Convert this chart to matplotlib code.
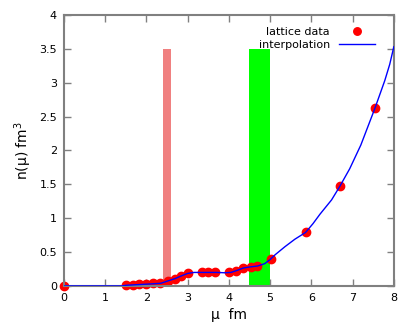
import matplotlib
matplotlib.use("Agg")
import matplotlib.pyplot as plt

# lattice data points
mu_data = [0.0, 1.50, 1.67, 1.83, 2.00, 2.16, 2.33, 2.52, 2.69, 2.85, 3.01,
           3.34, 3.49, 3.66, 4.01, 4.17, 4.35, 4.53, 4.69, 5.01, 5.86, 6.69, 7.54]
n_data = [0.0, 0.015, 0.02, 0.025, 0.035, 0.04, 0.045, 0.08, 0.10, 0.15, 0.19,
          0.20, 0.20, 0.20, 0.20, 0.225, 0.27, 0.285, 0.30, 0.40, 0.79, 1.48, 2.63]

# interpolation curve
mu_curve = [0.0, 1.4, 1.5, 1.8, 2.1, 2.35, 2.5, 2.7, 2.85, 3.0, 3.15, 3.4, 3.7,
            3.9, 4.05, 4.2, 4.35, 4.5, 4.7, 4.87, 5.0, 5.12, 5.36, 5.6, 5.86,
            6.04, 6.21, 6.49, 6.69, 6.93, 7.2, 7.54, 7.78, 7.9, 8.0]
n_curve = [0.0, 0.0, 0.01, 0.02, 0.03, 0.04, 0.07, 0.11, 0.15, 0.185, 0.20, 0.20,
           0.20, 0.195, 0.20, 0.23, 0.265, 0.28, 0.295, 0.33, 0.39, 0.46, 0.58,
           0.69, 0.79, 0.92, 1.06, 1.27, 1.47, 1.73, 2.08, 2.62, 3.03, 3.27, 3.53]

# shaded bands
band_left = [2.4, 4.5]
band_width = [0.2, 0.5]
band_height = [3.5, 3.5]
band_colors = ["#f08080", "#00ff00"]

fig = plt.figure(figsize=(4.15, 3.31), dpi=100)
ax = fig.add_axes([0.154, 0.136, 0.795, 0.819])

ax.bar(band_left, band_height, width=band_width, align="edge",
       color=band_colors, zorder=1)
ax.plot(mu_data, n_data, "o", color="red", markersize=6, zorder=2,
        label="lattice data", clip_on=False)
ax.plot(mu_curve, n_curve, "-", color="blue", linewidth=1, zorder=3,
        label="interpolation")

ax.set_xlim(0, 8)
ax.set_ylim(0, 4)
ax.set_xticks(range(0, 9))
ax.set_yticks([0, 0.5, 1, 1.5, 2, 2.5, 3, 3.5, 4])
ax.set_yticklabels(["0", "0.5", "1", "1.5", "2", "2.5", "3", "3.5", "4"])

grey = "#808080"
for s in ax.spines.values():
    s.set_color(grey)
    s.set_linewidth(1.5)
ax.tick_params(direction="in", top=True, right=True, length=5, width=1,
               color=grey, labelsize=8, pad=5)

ax.set_xlabel("μ  fm", fontsize=10)
ax.set_ylabel("n(μ) fm$^3$", fontsize=10)

ax.legend(loc="upper right", frameon=False, markerfirst=False, fontsize=8,
          handlelength=3.2, handletextpad=0.8, borderaxespad=0.3,
          labelspacing=0.25, markerscale=0.9, bbox_to_anchor=(0.965, 0.985))

fig.savefig("out.png", dpi=100)
plt.close(fig)
